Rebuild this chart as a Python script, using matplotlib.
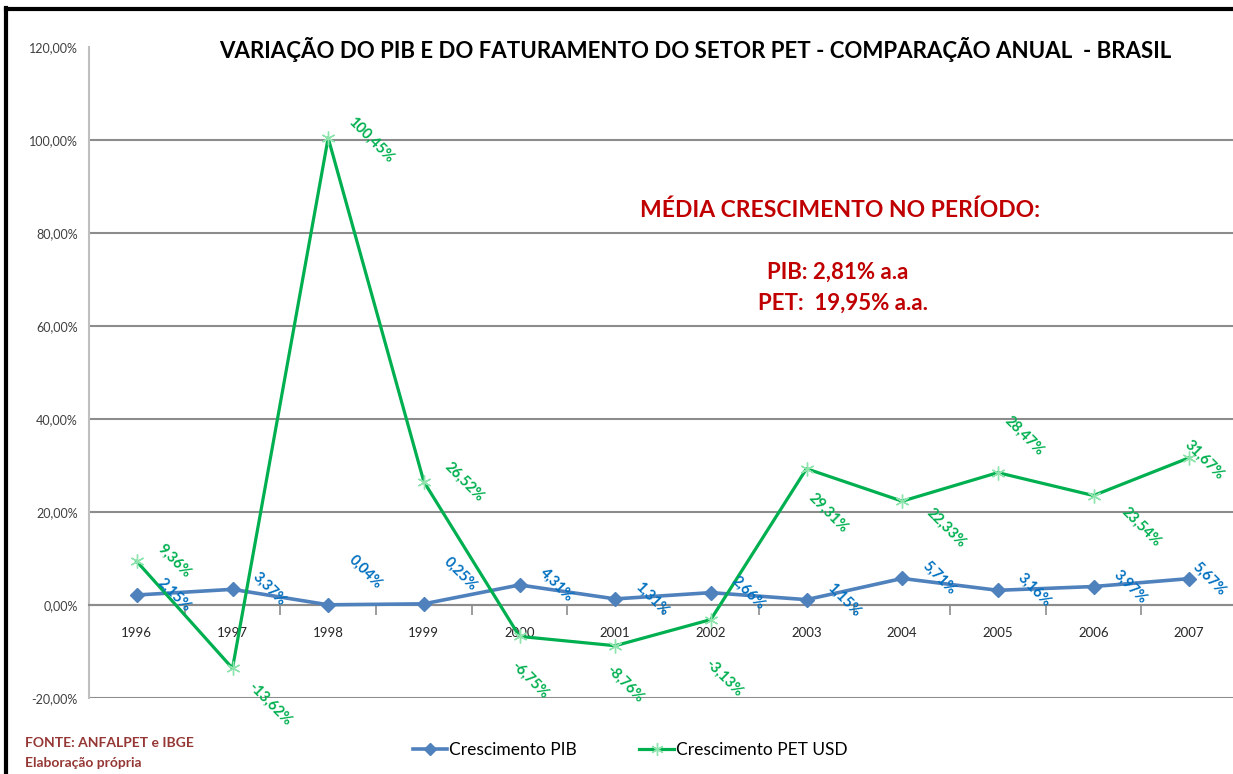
import matplotlib
matplotlib.use("Agg")
import matplotlib.pyplot as plt
from matplotlib.lines import Line2D

plt.rcParams['font.family'] = ['Lato', 'DejaVu Sans']

# dados
anos = ['1996', '1997', '1998', '1999', '2000', '2001', '2002', '2003', '2004', '2005', '2006', '2007']
pib = [2.15, 3.37, 0.04, 0.25, 4.31, 1.31, 2.66, 1.15, 5.71, 3.16, 3.97, 5.67]
pet = [9.36, -13.62, 100.45, 26.52, -6.75, -8.76, -3.13, 29.31, 22.33, 28.47, 23.54, 31.67]
y_ticks = [-20, 0, 20, 40, 60, 80, 100, 120]

# deslocamento dos rótulos (pixels, x para a direita, y para cima)
off_pib = [(37, 0), (37, 0), (37, 33), (37, 30), (37, 0), (37, 0),
           (37, 0), (37, 0), (37, 0), (37, 0), (37, 0), (20, 0)]
off_pet = [(37, 0), (37, -36), (43, -2), (40, 0), (10, -44), (10, -38),
           (13, -58), (22, -44), (44, -27), (26, 37), (48, -31), (15, -2)]

azul = '#4F81BD'
azul_txt = '#0070C0'
verde = '#00B050'
vermelho = '#C00000'

fig = plt.figure(figsize=(12.33, 7.74), dpi=100)
ax = fig.add_axes([89/1233, 1 - 698/774, (1237 - 89)/1233, (698 - 47)/774])

x = list(range(len(anos)))
ax.plot(x, pib, color=azul, lw=2.6, marker='D', markersize=7, zorder=3)
ax.plot(x, pet, color=verde, lw=2.3, marker=(6, 2, 0), markersize=10,
        markeredgecolor='#8FE3AC', markeredgewidth=1.0, zorder=3)

def fmt(v):
    return f"{v:.2f}".replace('.', ',') + '%'

for i, v in enumerate(pib):
    ax.annotate(fmt(v), (i, v), xytext=off_pib[i], textcoords='offset pixels',
                rotation=-45, ha='center', va='center', color=azul_txt,
                fontsize=10.5, fontweight='bold', zorder=4)
for i, v in enumerate(pet):
    ax.annotate(fmt(v), (i, v), xytext=off_pet[i], textcoords='offset pixels',
                rotation=-45, ha='center', va='center', color=verde,
                fontsize=10.5, fontweight='bold', zorder=4)

ax.set_xlim(-0.5, len(anos) - 0.5)
ax.set_ylim(-20, 120)

# grade horizontal
for t in y_ticks[:-1]:
    ax.axhline(t, color='#8C8C8C', lw=1.5, zorder=1)

ax.set_yticks(y_ticks)
ax.set_yticklabels([f"{t},00%" for t in y_ticks], fontsize=9, color='#404040')
ax.tick_params(axis='y', length=0, pad=8)

ax.spines['top'].set_visible(False)
ax.spines['right'].set_visible(False)
ax.spines['left'].set_color('#BFBFBF')
ax.spines['left'].set_linewidth(1.5)
ax.spines['bottom'].set_position(('data', 0))
ax.spines['bottom'].set_color('#8C8C8C')
ax.spines['bottom'].set_linewidth(1.5)

ax.set_xticks(x)
ax.set_xticklabels(anos, fontsize=9.5, color='#262626')
ax.set_xticks([i + 0.5 for i in x[:-1]], minor=True)
ax.tick_params(axis='x', which='major', length=0, pad=16)
ax.tick_params(axis='x', which='minor', length=7, color='#8C8C8C', width=1.2)

fig.text(695/1233, 1 - 49/774,
         'VARIAÇÃO DO PIB E DO FATURAMENTO DO SETOR PET - COMPARAÇÃO ANUAL  - BRASIL',
         ha='center', va='center', fontsize=16, fontweight='bold', color='black')

fig.text(840/1233, 1 - 210/774, 'MÉDIA CRESCIMENTO NO PERÍODO:',
         ha='center', va='center', fontsize=16.5, fontweight='bold', color=vermelho)
fig.text(838/1233, 1 - 272/774, 'PIB: 2,81% a.a',
         ha='center', va='center', fontsize=16, fontweight='bold', color=vermelho)
fig.text(843/1233, 1 - 303/774, 'PET:  19,95% a.a.',
         ha='center', va='center', fontsize=16, fontweight='bold', color=vermelho)

fig.text(25/1233, 1 - 743/774, 'FONTE: ANFALPET e IBGE',
         ha='left', va='center', fontsize=10, fontweight='bold', color='#953735')
fig.text(25/1233, 1 - 763/774, 'Elaboração própria',
         ha='left', va='center', fontsize=10, fontweight='bold', color='#953735')

handles = [
    Line2D([], [], color=azul, lw=2.6, marker='D', markersize=6),
    Line2D([], [], color=verde, lw=2.3, marker=(6, 2, 0), markersize=9,
           markeredgecolor='#8FE3AC'),
]
fig.legend(handles, ['Crescimento PIB', 'Crescimento PET USD'], loc='center',
           bbox_to_anchor=(630/1233, 1 - 750/774), ncol=2, frameon=False,
           fontsize=12.5, handlelength=2.0, handletextpad=0.1, columnspacing=3.6)

# moldura
fig.add_artist(Line2D([6/1233, 6/1233], [0, 1 - 8/774], color='black', lw=3,
                      transform=fig.transFigure))
fig.add_artist(Line2D([6/1233, 1], [1 - 9/774, 1 - 9/774], color='black', lw=3,
                      transform=fig.transFigure))

fig.savefig('out.png', dpi=100)
